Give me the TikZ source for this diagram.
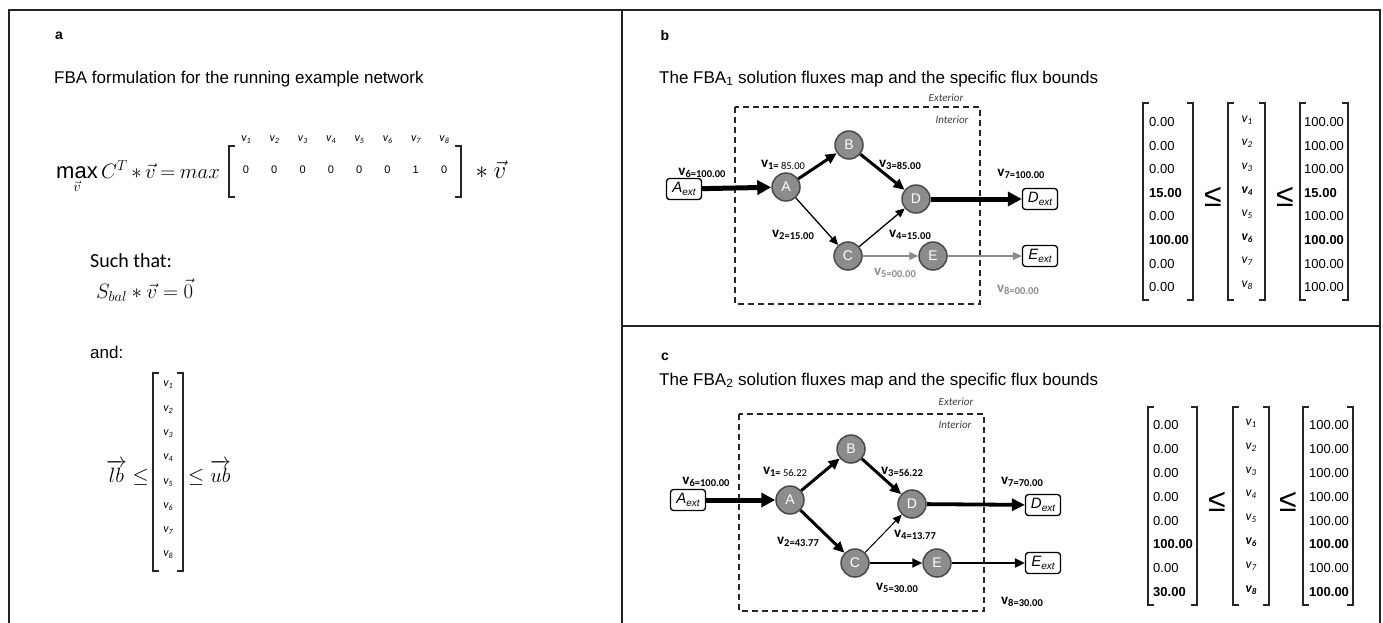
\documentclass[tikz,border=0pt]{standalone}
\usepackage{amsmath}
\usepackage{fontspec}
\setmainfont{Liberation Sans}
\newfontfamily\calib{Carlito}
\usetikzlibrary{arrows.meta}
\definecolor{nodefill}{HTML}{8C8C8C}
\definecolor{nodeline}{HTML}{4A4A4A}
\definecolor{grayedge}{HTML}{8C8C8C}
\definecolor{framecol}{HTML}{222222}
\newcommand\fl[1]{{\calib\bfseries\fontsize{15}{15}\selectfont v}\raisebox{-2.5pt}{\calib\bfseries\fontsize{10.5}{10.5}\selectfont #1}}
\newcommand\vi[1]{{\calib\itshape\fontsize{12}{12}\selectfont v}\raisebox{-2pt}{\calib\itshape\fontsize{8}{8}\selectfont #1}}
\newcommand\vm[1]{{\calib\itshape\fontsize{13.5}{13.5}\selectfont v}\raisebox{-2pt}{\calib\itshape\fontsize{9}{9}\selectfont #1}}
\newcommand\vmb[1]{{\calib\bfseries\itshape\fontsize{13.5}{13.5}\selectfont v}\raisebox{-2pt}{\calib\bfseries\itshape\fontsize{9}{9}\selectfont #1}}
\newcommand\extx[1]{#1\raisebox{-3pt}{\fontsize{10}{10}\selectfont ext}}
\newcommand\brkl[3]{\draw[brk] (#1+6,#2) -- (#1,#2) -- (#1,#3) -- (#1+6,#3);}
\newcommand\brkr[3]{\draw[brk] (#1-6,#2) -- (#1,#2) -- (#1,#3) -- (#1-6,#3);}
\begin{document}
\begin{tikzpicture}[x=1pt,y=-1pt,
  frame/.style={line width=1.4pt, draw=framecol},
  brk/.style={line width=1.3pt, draw=black!85},
  met/.style={circle, minimum size=28pt, inner sep=0pt, fill=nodefill, draw=nodeline, line width=1.5pt, text=white, font=\fontsize{14}{14}\selectfont},
  extbox/.style={rounded corners=3pt, draw=black, line width=1.3pt, fill=white, minimum width=35pt, minimum height=21pt, inner sep=1pt, font=\fontsize{15}{15}\selectfont\itshape},
  ethin/.style={-{Triangle[length=9pt,width=8pt]}, line width=1.3pt},
  emid/.style={-{Triangle[length=10pt,width=9pt]}, line width=2pt},
  ethick/.style={-{Triangle[length=11pt,width=10pt]}, line width=3pt},
  ethicker/.style={-{Triangle[length=13pt,width=12pt]}, line width=3.8pt},
  ebig/.style={-{Triangle[length=14pt,width=14pt]}, line width=5pt},
  egray/.style={ethin, draw=grayedge, line width=1.2pt},
  lab/.style={inner sep=0pt},
  glab/.style={inner sep=0pt, text=grayedge},
  boxd/.style={dashed, dash pattern=on 6pt off 4pt, line width=1.4pt, draw=black!85},
  region/.style={font=\calib\itshape\fontsize{11}{11}\selectfont, text=black!75, inner sep=0pt},
  title/.style={font=\fontsize{17}{17}\selectfont, anchor=base west, inner sep=0pt},
  letter/.style={font=\fontsize{14}{14}\selectfont\bfseries, inner sep=0pt},
  val/.style={font=\fontsize{13}{13}\selectfont, anchor=west, inner sep=0pt},
  leq/.style={font=\fontsize{32}{32}\selectfont, inner sep=0pt},
  mathf/.style={font=\fontsize{22}{22}\selectfont, inner sep=0pt}]
\useasboundingbox (0,0) rectangle (1383,622);
\fill[white] (0,0) rectangle (1383,622);
% frames
\draw[frame] (9,630) -- (9,10) -- (1380,10) -- (1380,630);
\draw[frame] (622,10) -- (622,630);
\draw[frame] (622,326) -- (1380,326);

% ---------------- panel a ----------------
\node[letter] (la) at (59,36) {a};
\node[title] (ta) at (54,83) {FBA formulation for the running example network};
\node[mathf, anchor=base west] (obj) at (56,178) {\medmuskip=3mu\thickmuskip=4mu$\max\limits_{\vec{v}} C^T * \vec{v} = max$};
\brkl{229}{146}{197}
\brkr{461}{146}{197}
\foreach \c [count=\i] in {0,0,0,0,0,0,1,0} {
  \node[inner sep=0pt, font=\fontsize{11}{11}\selectfont] (c\i) at (246+28.3*\i-28.3,170) {\c};
  \node[inner sep=0pt] (h\i) at (246+28.3*\i-28.3,140) {\vi{\i}};
}
\node[font=\fontsize{25}{25}\selectfont, anchor=base west, inner sep=0pt] (vv) at (470,178) {${}* \vec{v}$};
\node[anchor=base west, inner sep=0pt, font=\calib\fontsize{20}{20}\selectfont] (st) at (90,267) {Such that:};
\node[mathf, anchor=base west] (sb) at (96,298) {$S_{bal} * \vec{v} = \vec{0}$};
\node[title] (and) at (90,358) {and:};
\brkl{153}{373}{571}
\brkr{183}{373}{571}
\foreach \i in {1,...,8} {
  \node[inner sep=0pt] (va\i) at (168,385+24.3*\i-24.3) {\vi{\i}};
}
\node[mathf, anchor=base east] (lb) at (149,482) {$\overrightarrow{lb} \le$};
\node[mathf, anchor=base west] (ub) at (188,482) {$\le \overrightarrow{ub}$};

% ---------------- panel b ----------------
\node[letter] (lbl) at (665,35) {b};
\node[title] (tb) at (659,83) {The FBA\textsubscript{1} solution fluxes map and the specific flux bounds};
\draw[boxd] (735,107) rectangle (980,304);
\node[region] (bx) at (946,98) {Exterior};
\node[region] (bi) at (952,120) {Interior};
\node[met] (bA) at (786,187) {A};
\node[met] (bB) at (849,145) {B};
\node[met] (bD) at (916,199) {D};
\node[met] (bC) at (848,256) {C};
\node[met] (bE) at (933,256) {E};
\node[extbox] (bAx) at (684,189) {\extx{A}};
\node[extbox] (bDx) at (1040,199) {\extx{D}};
\node[extbox] (bEx) at (1040,256) {\extx{E}};
\draw[ebig] (bAx) -- (bA);
\draw[ethick] (bA) -- (bB);
\draw[ethick] (bB) -- (bD);
\draw[ethin] (bA) -- (bC);
\draw[ethin] (bC) -- (bD);
\draw[egray] (bC) -- (bE);
\draw[egray] (bE) -- (bEx);
\draw[ebig] (bD) -- (bDx);
\node[lab] (bv6) at (702,173) {\fl{6=100.00}};
\node[lab] (bv1) at (783,165) {\fl{1=\mdseries\ 85.00}};
\node[lab] (bv3) at (900,165) {\fl{3=85.00}};
\node[lab] (bv7) at (1021,174) {\fl{7=100.00}};
\node[lab] (bv2) at (793,235) {\fl{2=15.00}};
\node[lab] (bv4) at (910,235) {\fl{4=15.00}};
\node[glab] (bv5) at (895,273) {\fl{5=00.00}};
\node[glab] (bv8) at (1018,290) {\fl{8=00.00}};
% bounds b
\brkl{1143}{103}{300}
\brkr{1193}{103}{300}
\foreach \t [count=\i] in {0.00,0.00,0.00,\textbf{15.00},0.00,\textbf{100.00},0.00,0.00} {
  \node[val] (blb\i) at (1149,122+23.6*\i-23.6) {\t};
}
\node[leq] (ble1) at (1213,197) {≤};
\brkl{1228}{103}{300}
\brkr{1265}{103}{300}
\foreach \t [count=\i] in {\vm{1},\vm{2},\vm{3},\vmb{4},\vm{5},\vmb{6},\vm{7},\vm{8}} {
  \node[inner sep=0pt] (bvv\i) at (1247,120+23.6*\i-23.6) {\t};
}
\node[leq] (ble2) at (1285,197) {≤};
\brkl{1300}{103}{300}
\brkr{1348}{103}{300}
\foreach \t [count=\i] in {100.00,100.00,100.00,\textbf{15.00},100.00,\textbf{100.00},100.00,100.00} {
  \node[val] (bub\i) at (1304,122+23.6*\i-23.6) {\t};
}

% ---------------- panel c ----------------
\node[letter] (lcl) at (665,357) {c};
\node[title] (tc) at (659,385) {The FBA\textsubscript{2} solution fluxes map and the specific flux bounds};
\draw[boxd] (739,414) rectangle (984,611);
\node[region] (cx) at (956,402) {Exterior};
\node[region] (ci) at (955,425) {Interior};
\node[met] (cA) at (790,500) {A};
\node[met] (cB) at (851,449) {B};
\node[met] (cD) at (912,504) {D};
\node[met] (cC) at (855,563) {C};
\node[met] (cE) at (937,563) {E};
\node[extbox] (cAx) at (688,500) {\extx{A}};
\node[extbox] (cDx) at (1043,505) {\extx{D}};
\node[extbox] (cEx) at (1043,563) {\extx{E}};
\draw[ebig] (cAx) -- (cA);
\draw[ethick] (cA) -- (cB);
\draw[ethick] (cB) -- (cD);
\draw[ethick] (cA) -- (cC);
\draw[ethin, line width=1pt] (cC) -- (cD);
\draw[emid] (cC) -- (cE);
\draw[emid] (cE) -- (cEx);
\draw[ethicker] (cD) -- (cDx);
\node[lab] (cv6) at (706,482) {\fl{6=100.00}};
\node[lab] (cv1) at (785,472) {\fl{1=\mdseries\ 56.22}};
\node[lab] (cv3) at (902,472) {\fl{3=56.22}};
\node[lab] (cv7) at (1022,482) {\fl{7=70.00}};
\node[lab] (cv2) at (798,542) {\fl{2=43.77}};
\node[lab] (cv4) at (915,535) {\fl{4=13.77}};
\node[lab] (cv5) at (897,588) {\fl{5=30.00}};
\node[lab] (cv8) at (1022,602) {\fl{8=30.00}};
% bounds c
\brkl{1148}{407}{605}
\brkr{1197}{407}{605}
\foreach \t [count=\i] in {0.00,0.00,0.00,0.00,0.00,\textbf{100.00},0.00,\textbf{30.00}} {
  \node[val] (clb\i) at (1153,425+23.9*\i-23.9) {\t};
}
\node[leq] (cle1) at (1217,502) {≤};
\brkl{1233}{407}{605}
\brkr{1269}{407}{605}
\foreach \t [count=\i] in {\vm{1},\vm{2},\vm{3},\vm{4},\vm{5},\vmb{6},\vm{7},\vmb{8}} {
  \node[inner sep=0pt] (cvv\i) at (1251,423+23.9*\i-23.9) {\t};
}
\node[leq] (cle2) at (1288,502) {≤};
\brkl{1303}{407}{605}
\brkr{1353}{407}{605}
\foreach \t [count=\i] in {100.00,100.00,100.00,100.00,100.00,\textbf{100.00},100.00,\textbf{100.00}} {
  \node[val] (cub\i) at (1309,425+23.9*\i-23.9) {\t};
}
\end{tikzpicture}
\end{document}
